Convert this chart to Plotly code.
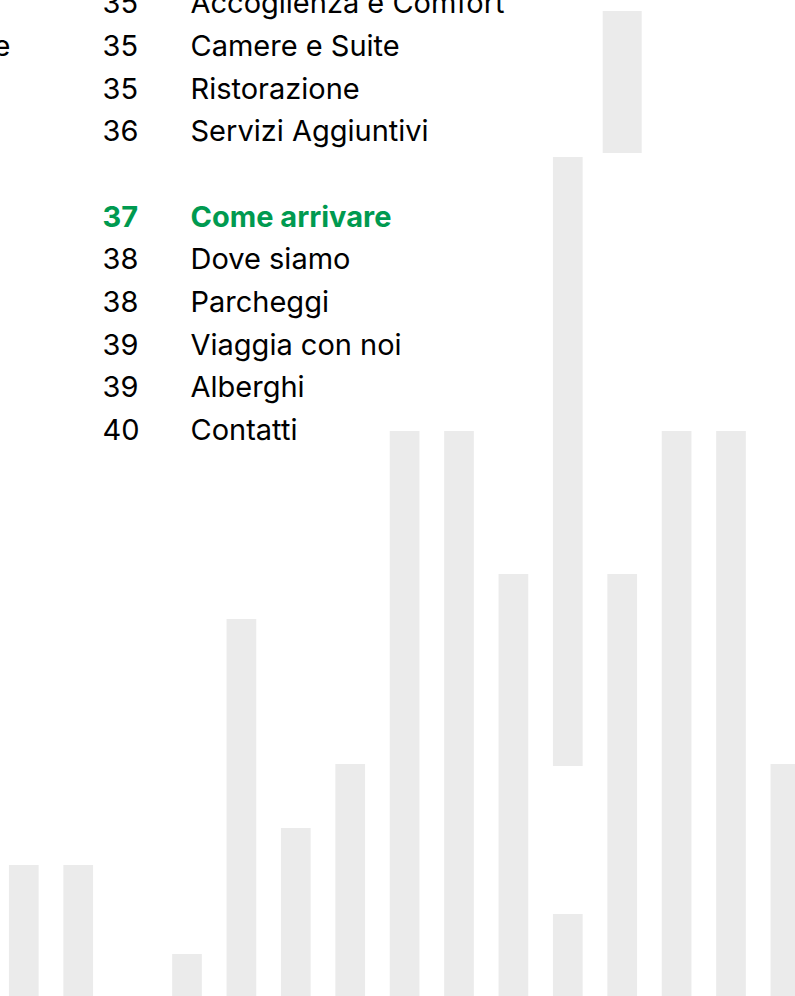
import plotly.graph_objects as go

# ---------------- data ----------------
# decorative column heights (pixel units measured from the bottom edge)
bar_index = list(range(15))
bar_heights = [131, 131, 0, 42, 377, 168, 232, 565, 565, 422, 82, 422, 565, 565, 232]
# floating segments: (column index, base, height)
float_index = [10, 11]
float_base = [230, 843]
float_heights = [609, 142]

# table of contents
group1_pages = ["35", "35", "35", "36"]
group1_titles = ["Accoglienza e Comfort", "Camere e Suite", "Ristorazione", "Servizi Aggiuntivi"]
group2_header_page = "37"
group2_header_title = "Come arrivare"
group2_pages = ["38", "38", "39", "39", "40"]
group2_titles = ["Dove siamo", "Parcheggi", "Viaggia con noi", "Alberghi", "Contatti"]
left_fragment = "e"

# ---------------- style ----------------
W, H = 795, 996
BAR_COLOR = "#ebebeb"
GREEN = "#009a50"
FONT = "Inter"
FS = 29
LINE = 42.6
PITCH = 54.4
FIRST_CENTER = 23.8
BAR_W = 29.7
WIDE_W = 39.0

x_lo = -FIRST_CENTER / PITCH
x_hi = (W - FIRST_CENTER) / PITCH

fig = go.Figure()
fig.add_trace(go.Bar(x=bar_index, y=bar_heights, width=BAR_W / PITCH,
                     marker=dict(color=BAR_COLOR, line=dict(width=0)),
                     hoverinfo="skip", showlegend=False))
fig.add_trace(go.Bar(x=float_index, y=float_heights, base=float_base,
                     width=[BAR_W / PITCH, WIDE_W / PITCH],
                     marker=dict(color=BAR_COLOR, line=dict(width=0)),
                     hoverinfo="skip", showlegend=False))

# text on a pixel-space overlay axis (y measured from top)
shift = 0.35 * FS - 4
def baselines(start, n):
    return [start + LINE * i for i in range(n)]

g1_base = baselines(12.3, len(group1_titles))
g2_base = baselines(225.6, len(group2_titles) + 1)

def add_text(xs, ys, texts, color, weight, pos):
    fig.add_trace(go.Scatter(
        x=xs, y=[b - shift for b in ys], text=texts, mode="text",
        textposition=pos, xaxis="x2", yaxis="y2",
        textfont=dict(family=FONT, size=FS, color=color, weight=weight),
        hoverinfo="skip", showlegend=False, cliponaxis=False))

NUM_X = 102.5
TITLE_X = 190.5
add_text([NUM_X] * len(group1_pages), g1_base, group1_pages, "#000000", 400, "middle right")
add_text([TITLE_X] * len(group1_titles), g1_base, group1_titles, "#000000", 400, "middle right")
add_text([NUM_X], g2_base[:1], [group2_header_page], GREEN, 700, "middle right")
add_text([TITLE_X], g2_base[:1], [group2_header_title], GREEN, 700, "middle right")
add_text([NUM_X] * len(group2_pages), g2_base[1:], group2_pages, "#000000", 400, "middle right")
add_text([TITLE_X] * len(group2_titles), g2_base[1:], group2_titles, "#000000", 400, "middle right")
add_text([10.5], [g1_base[1]], [left_fragment], "#000000", 400, "middle left")

fig.update_layout(
    width=W, height=H, margin=dict(l=0, r=0, t=0, b=0, pad=0),
    paper_bgcolor="white", plot_bgcolor="white", barmode="overlay",
    xaxis=dict(range=[x_lo, x_hi], visible=False, fixedrange=True),
    yaxis=dict(range=[0, H], visible=False, fixedrange=True),
    xaxis2=dict(range=[0, W], visible=False, overlaying="x", fixedrange=True),
    yaxis2=dict(range=[H, 0], visible=False, overlaying="y", fixedrange=True),
)
fig.write_html("out.html", config={"displayModeBar": False},
               post_script="document.body.style.margin='0';document.body.style.overflow='hidden';")
